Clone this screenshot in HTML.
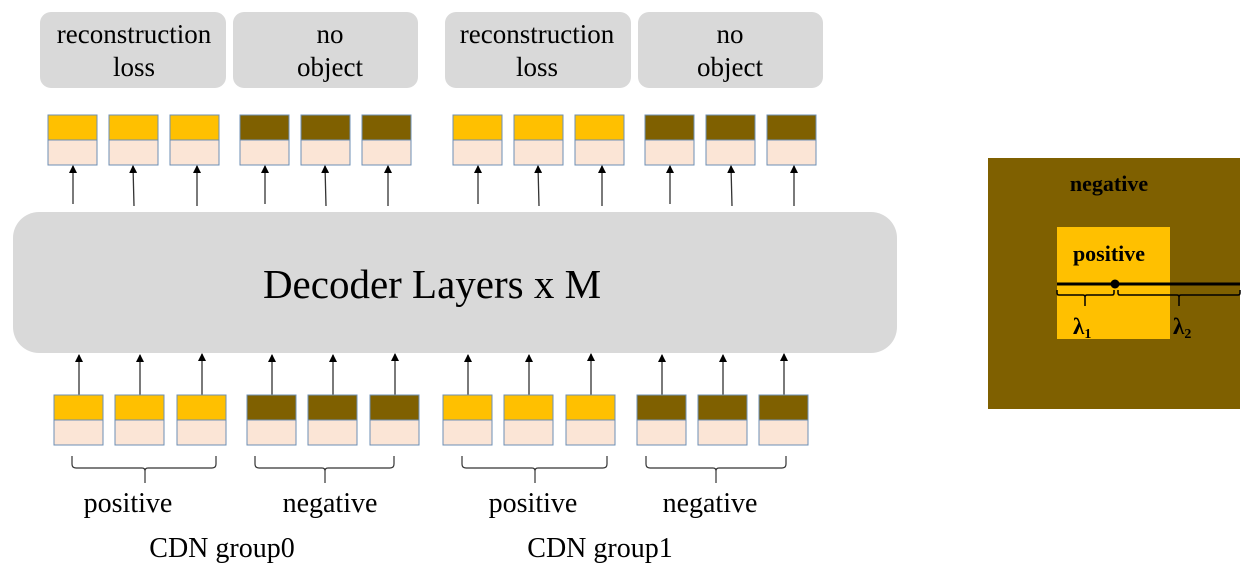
<!DOCTYPE html>
<html><head><meta charset="utf-8"><style>
html,body{margin:0;padding:0;background:#fff;}
svg{display:block;}
</style></head><body>
<svg width="1251" height="565" viewBox="0 0 1251 565" xmlns="http://www.w3.org/2000/svg" font-family="'Liberation Serif', serif">
<defs><marker id="ah" markerWidth="8" markerHeight="8" refX="7" refY="4" orient="auto" markerUnits="userSpaceOnUse"><path d="M0,0 L8,4 L0,8 Z" fill="#000"/></marker></defs>
<!-- loss boxes -->
<g fill="#d9d9d9">
<rect x="40" y="12" width="186" height="76" rx="11"/>
<rect x="233" y="12" width="185" height="76" rx="11"/>
<rect x="445" y="12" width="186" height="76" rx="11"/>
<rect x="638" y="12" width="185" height="76" rx="11"/>
</g>
<g font-size="27" text-anchor="middle" fill="#000">
<text x="134" y="43">reconstruction</text><text x="134" y="76">loss</text>
<text x="330" y="43">no</text><text x="330" y="76">object</text>
<text x="537" y="43">reconstruction</text><text x="537" y="76">loss</text>
<text x="730" y="43">no</text><text x="730" y="76">object</text>
</g>
<!-- top boxes -->
<g stroke="#6d8fb5" stroke-width="1">
<rect x="48" y="115" width="49" height="25" fill="#ffc000"/><rect x="48" y="140" width="49" height="25" fill="#fbe5d6"/>
<rect x="109" y="115" width="49" height="25" fill="#ffc000"/><rect x="109" y="140" width="49" height="25" fill="#fbe5d6"/>
<rect x="170" y="115" width="49" height="25" fill="#ffc000"/><rect x="170" y="140" width="49" height="25" fill="#fbe5d6"/>
<rect x="240" y="115" width="49" height="25" fill="#7f6000"/><rect x="240" y="140" width="49" height="25" fill="#fbe5d6"/>
<rect x="301" y="115" width="49" height="25" fill="#7f6000"/><rect x="301" y="140" width="49" height="25" fill="#fbe5d6"/>
<rect x="362" y="115" width="49" height="25" fill="#7f6000"/><rect x="362" y="140" width="49" height="25" fill="#fbe5d6"/>
<rect x="453" y="115" width="49" height="25" fill="#ffc000"/><rect x="453" y="140" width="49" height="25" fill="#fbe5d6"/>
<rect x="514" y="115" width="49" height="25" fill="#ffc000"/><rect x="514" y="140" width="49" height="25" fill="#fbe5d6"/>
<rect x="575" y="115" width="49" height="25" fill="#ffc000"/><rect x="575" y="140" width="49" height="25" fill="#fbe5d6"/>
<rect x="645" y="115" width="49" height="25" fill="#7f6000"/><rect x="645" y="140" width="49" height="25" fill="#fbe5d6"/>
<rect x="706" y="115" width="49" height="25" fill="#7f6000"/><rect x="706" y="140" width="49" height="25" fill="#fbe5d6"/>
<rect x="767" y="115" width="49" height="25" fill="#7f6000"/><rect x="767" y="140" width="49" height="25" fill="#fbe5d6"/>
</g>
<!-- top arrows -->
<g stroke="#333" stroke-width="1.3" marker-end="url(#ah)">
<line x1="73" y1="204" x2="73" y2="166"/><line x1="134" y1="206" x2="133" y2="166"/><line x1="197" y1="206" x2="197" y2="166"/>
<line x1="265" y1="204" x2="265" y2="166"/><line x1="326" y1="206" x2="325" y2="166"/><line x1="388" y1="206" x2="388" y2="166"/>
<line x1="478" y1="204" x2="478" y2="166"/><line x1="539" y1="206" x2="538" y2="166"/><line x1="602" y1="206" x2="602" y2="166"/>
<line x1="670" y1="204" x2="670" y2="166"/><line x1="732" y1="206" x2="731" y2="166"/><line x1="794" y1="206" x2="794" y2="166"/>
</g>
<!-- decoder -->
<rect x="13" y="212" width="884" height="141" rx="26" fill="#d9d9d9"/>
<text x="432" y="298" font-size="41" text-anchor="middle">Decoder Layers x M</text>
<!-- bottom arrows -->
<g stroke="#333" stroke-width="1.3" marker-end="url(#ah)">
<line x1="79" y1="395" x2="79" y2="355"/><line x1="140" y1="395" x2="140" y2="355"/><line x1="202" y1="395" x2="202" y2="354"/>
<line x1="272" y1="395" x2="272" y2="355"/><line x1="333" y1="395" x2="333" y2="355"/><line x1="395" y1="395" x2="395" y2="354"/>
<line x1="468" y1="395" x2="468" y2="355"/><line x1="529" y1="395" x2="529" y2="355"/><line x1="591" y1="395" x2="591" y2="354"/>
<line x1="662" y1="395" x2="662" y2="355"/><line x1="723" y1="395" x2="723" y2="355"/><line x1="784" y1="395" x2="784" y2="354"/>
</g>
<!-- bottom boxes -->
<g stroke="#6d8fb5" stroke-width="1">
<rect x="54" y="395" width="49" height="25" fill="#ffc000"/><rect x="54" y="420" width="49" height="25" fill="#fbe5d6"/>
<rect x="115" y="395" width="49" height="25" fill="#ffc000"/><rect x="115" y="420" width="49" height="25" fill="#fbe5d6"/>
<rect x="177" y="395" width="49" height="25" fill="#ffc000"/><rect x="177" y="420" width="49" height="25" fill="#fbe5d6"/>
<rect x="247" y="395" width="49" height="25" fill="#7f6000"/><rect x="247" y="420" width="49" height="25" fill="#fbe5d6"/>
<rect x="308" y="395" width="49" height="25" fill="#7f6000"/><rect x="308" y="420" width="49" height="25" fill="#fbe5d6"/>
<rect x="370" y="395" width="49" height="25" fill="#7f6000"/><rect x="370" y="420" width="49" height="25" fill="#fbe5d6"/>
<rect x="443" y="395" width="49" height="25" fill="#ffc000"/><rect x="443" y="420" width="49" height="25" fill="#fbe5d6"/>
<rect x="504" y="395" width="49" height="25" fill="#ffc000"/><rect x="504" y="420" width="49" height="25" fill="#fbe5d6"/>
<rect x="566" y="395" width="49" height="25" fill="#ffc000"/><rect x="566" y="420" width="49" height="25" fill="#fbe5d6"/>
<rect x="637" y="395" width="49" height="25" fill="#7f6000"/><rect x="637" y="420" width="49" height="25" fill="#fbe5d6"/>
<rect x="698" y="395" width="49" height="25" fill="#7f6000"/><rect x="698" y="420" width="49" height="25" fill="#fbe5d6"/>
<rect x="759" y="395" width="49" height="25" fill="#7f6000"/><rect x="759" y="420" width="49" height="25" fill="#fbe5d6"/>
</g>
<!-- braces -->
<g fill="none" stroke="#333" stroke-width="1.2">
<path d="M72 456 v8 q0 4 4 4 H142 q3 0 3 3 v12 M145 471 q0 -3 3 -3 H212 q4 0 4 -4 v-8"/>
<path d="M255 456 v8 q0 4 4 4 H322 q3 0 3 3 v12 M325 471 q0 -3 3 -3 H390 q4 0 4 -4 v-8"/>
<path d="M462 456 v8 q0 4 4 4 H532 q3 0 3 3 v12 M535 471 q0 -3 3 -3 H603 q4 0 4 -4 v-8"/>
<path d="M646 456 v8 q0 4 4 4 H713 q3 0 3 3 v12 M716 471 q0 -3 3 -3 H782 q4 0 4 -4 v-8"/>
</g>
<g font-size="28" text-anchor="middle">
<text x="128" y="512">positive</text><text x="330" y="512">negative</text>
<text x="533" y="512">positive</text><text x="710" y="512">negative</text>
</g>
<g font-size="28" text-anchor="middle">
<text x="222" y="557">CDN group0</text><text x="600" y="557">CDN group1</text>
</g>
<!-- right panel -->
<rect x="988" y="158" width="252" height="251" fill="#7f6000"/>
<rect x="1057" y="227" width="113" height="112" fill="#ffc000"/>
<text x="1109" y="191" font-size="22" font-weight="bold" text-anchor="middle">negative</text>
<text x="1109" y="261" font-size="22" font-weight="bold" text-anchor="middle">positive</text>
<line x1="1057" y1="284" x2="1240" y2="284" stroke="#000" stroke-width="3"/>
<circle cx="1115" cy="284" r="4.5" fill="#000"/>
<g fill="none" stroke="#000" stroke-width="1.5">
<path d="M1057 290 v3 q0 2 2 2 H1083 q2 0 2 2 v9 M1085 297 q0 -2 2 -2 H1112 q2 0 2 -2 v-3"/>
<path d="M1118 290 v3 q0 2 2 2 H1177 q2 0 2 2 v9 M1179 297 q0 -2 2 -2 H1238 q2 0 2 -2 v-3"/>
</g>
<text x="1073" y="334" font-size="23" font-weight="bold">λ<tspan font-size="14" dy="4">1</tspan></text>
<text x="1173" y="334" font-size="23" font-weight="bold">λ<tspan font-size="14" dy="4">2</tspan></text>
</svg>
</body></html>
